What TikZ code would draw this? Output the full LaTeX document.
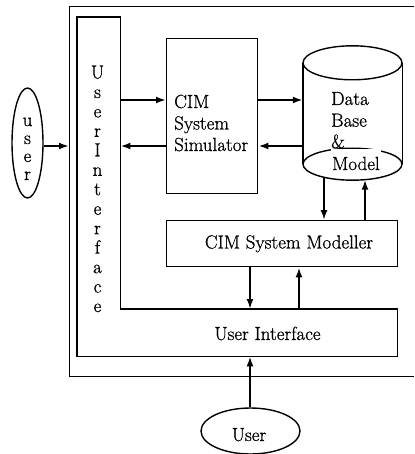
\documentclass[tikz,border=0pt]{standalone}
\usepackage{fontspec}
\setmainfont{Latin Modern Roman}[FakeBold=0.8]
\usetikzlibrary{arrows.meta,calc,shapes.geometric}
\begin{document}
\begin{tikzpicture}[x=1pt,y=-1pt,
  box/.style={draw,line width=1.4pt},
  frame/.style={draw,line width=1pt},
  link/.style={line width=2pt,-{Latex[length=10pt,width=7pt]}},
  lbl/.style={font=\fontsize{19}{21}\selectfont,inner sep=0pt},
  hole/.style={inner sep=0pt,anchor=north west}]
\useasboundingbox (0,0) rectangle (414,454);

% enclosing system frame (open to the right)
\coordinate (fTL) at (69,7);
\coordinate (fBL) at (69,376);
\draw[frame] (414,7) -- (fTL) -- (fBL) -- (414,376);

% L-shaped user interface
\node[hole,minimum width=43pt,minimum height=339pt] (uiv) at (77,17) {};
\node[hole,minimum width=320pt,minimum height=47pt] (uih) at (77,309) {};
\draw[box] (uiv.north west) -- (uiv.north east) -- (uiv.east |- uih.north)
  -- (uih.north east) -- (uih.south east) -- (uih.south west) -- cycle;
\foreach \l [count=\i] in {U,s,e,r,I,n,t,e,r,f,a,c,e}
  \node[lbl,anchor=base] (uil\i) at (97.5,{78.5+19.46*(\i-1)}) {\l};
\node[lbl,anchor=base] (uitxt) at (267.5,340) {User Interface};

% simulator
\node[box,hole,minimum width=91pt,minimum height=155pt] (sim) at (166,38) {};
\node[lbl,anchor=base west] (simA) at (174,108) {CIM};
\node[lbl,anchor=base west] (simB) at (174,129.5) {System};
\node[lbl,anchor=base west] (simC) at (174,151) {Simulator};

% data base cylinder
\node[inner sep=0pt,minimum width=99pt,minimum height=101pt] (db) at (352.5,113.5) {};
\draw[box] (db.north west) -- (db.south west);
\draw[box] (db.north east) -- (db.south east);
\draw[box] (db.north) ellipse [x radius=49.5pt,y radius=17pt];
\draw[box] (db.south) ellipse [x radius=49.5pt,y radius=16pt];
\node[lbl,anchor=base west] (dbA) at (331,105) {Data};
\node[lbl,anchor=base west] (dbB) at (331,126.7) {Base};
\node[lbl,anchor=base west] (dbC) at (331,148) {\&};
\node[lbl,anchor=base west,fill=white,inner xsep=1pt,text height=21pt] (dbD) at (331,170) {Model};

% modeller
\node[box,hole,minimum width=231pt,minimum height=46pt] (mod) at (166,220) {};
\node[lbl,anchor=base] (modtxt) at (289,248.5) {CIM System Modeller};

% users
\node[draw,ellipse,line width=1.4pt,inner sep=0pt,minimum width=31pt,minimum height=110pt] (userL) at (27.5,143) {};
\foreach \l [count=\i] in {u,s,e,r}
  \node[lbl,anchor=base] (ul\i) at (27.5,{126+18*(\i-1)}) {\l};
\node[draw,ellipse,line width=1.4pt,inner sep=0pt,minimum width=99pt,minimum height=46pt] (userB) at (250.5,431) {};
\node[lbl,anchor=base] (userBtxt) at (249,441) {User};

% connector rows and columns
\coordinate (rowA) at (0,100);
\coordinate (rowB) at (0,146);
\coordinate (c1) at (250,0);
\coordinate (c2) at (299,0);
\coordinate (dbOut) at ($(db.south)+(-28.5,13.1)$);
\coordinate (dbIn) at ($(db.south)+(12.5,15.5)$);

\draw[link] (userL.east |- rowB) -- (fTL |- rowB);
\draw[link] (uiv.east |- rowA) -- (sim.west |- rowA);
\draw[link] (sim.west |- rowB) -- (uiv.east |- rowB);
\draw[link] (sim.east |- rowA) -- (db.west |- rowA);
\draw[link] (db.west |- rowB) -- (sim.east |- rowB);
\draw[link] (dbOut) -- (dbOut |- mod.north);
\draw[link] (dbIn |- mod.north) -- (dbIn);
\draw[link] (c1 |- mod.south) -- (c1 |- uih.north);
\draw[link] (c2 |- uih.north) -- (c2 |- mod.south);
\draw[link] (c1 |- userB.north) -- (c1 |- uih.south);
\end{tikzpicture}
\end{document}
